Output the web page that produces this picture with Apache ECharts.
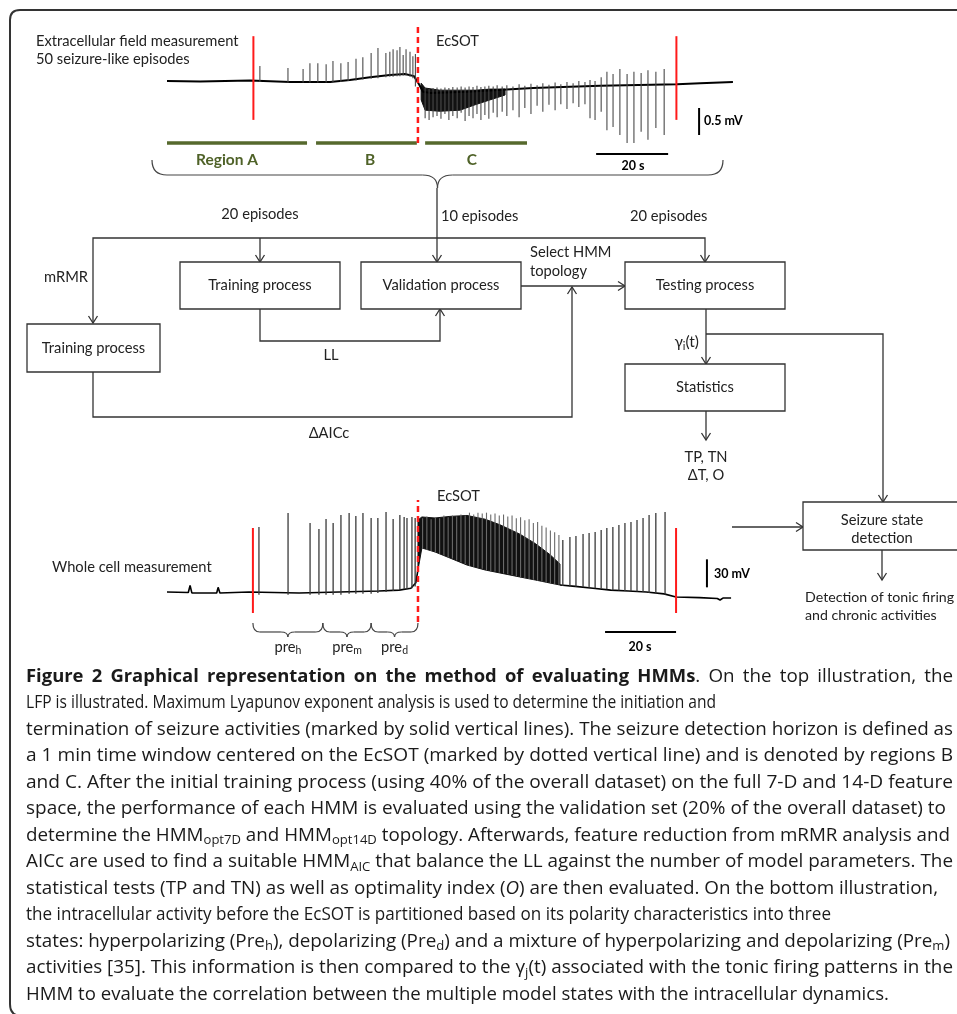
<!DOCTYPE html>
<html><head><meta charset="utf-8">
<script src="https://cdn.jsdelivr.net/npm/echarts@6/dist/echarts.min.js"></script>
<style>html,body{margin:0;padding:0;background:#fff}#c{width:957px;height:1014px}</style>
</head><body><div id="c"></div>
<script>
// ================= DATA =================
// Top trace: extracellular field (LFP). time [s], potential [mV] relative to initial baseline
const lfpBaseline = [[0,0],[9.2,-0.01],[23.1,0.01],[34.2,-0.02],[45.3,-0.02],[50.8,0.02],[56.4,0.07],[61.9,0.11],[66.1,0.13],[68.6,0.09],[70.0,-0.06],[71.1,-0.2],[73.1,-0.22],[83.3,-0.2],[101.7,-0.13],[120.3,-0.09],[141.7,-0.06],[148.1,-0.04],[157.2,-0.02]];
// spikes: [time, low, high]
const lfpSpikes = [
 [25.8,-0.02,0.28],[33.6,-0.03,0.24],[37.8,-0.03,0.22],[39.7,-0.03,0.33],[41.9,-0.03,0.33],[44.2,-0.03,0.31],[46.1,-0.02,0.37],[48.3,-0.02,0.33],[50.3,0.0,0.35],[52.5,0.01,0.41],[54.4,0.03,0.44],[56.7,0.04,0.52],[58.6,0.05,0.61],[60.8,0.07,0.52],[61.9,0.08,0.54],[62.8,0.08,0.59],[63.9,0.09,0.57],[64.7,0.09,0.63],[65.6,0.1,0.48],[66.4,0.1,0.59],[67.5,0.08,0.54],[68.3,0.05,0.46],[69.0,-0.1,0.5],
 [71.7,-0.69,-0.13],[72.8,-0.72,-0.15],[73.9,-0.67,-0.13],[75.0,-0.65,-0.12],[76.1,-0.70,-0.14],[77.2,-0.61,-0.12],[78.3,-0.72,-0.13],[79.4,-0.65,-0.11],[80.6,-0.69,-0.12],[81.7,-0.59,-0.1],[82.8,-0.74,-0.12],[83.9,-0.65,-0.1],[85.0,-0.69,-0.11],[86.1,-0.61,-0.09],[87.2,-0.72,-0.11],[88.3,-0.63,-0.1],[89.4,-0.70,-0.09],[90.6,-0.59,-0.1],[91.7,-0.67,-0.08],[93.1,-0.57,-0.1],
 [94.4,-0.65,-0.08],[96.1,-0.54,-0.1],[97.8,-0.67,-0.06],[99.4,-0.50,-0.09],[101.1,-0.61,-0.05],[102.8,-0.46,-0.08],[104.4,-0.57,-0.04],[106.1,-0.44,-0.07],[107.8,-0.54,-0.03],[109.4,-0.43,-0.06],[111.1,-0.52,-0.02],[112.8,-0.41,-0.04],[114.4,-0.48,0.0],[116.1,-0.43,-0.02],[117.5,-0.69,0.02],
 [118.9,-0.72,0.0],[120.6,-0.57,0.07],[122.2,-0.91,0.17],[123.9,-0.85,0.13],[125.8,-1.0,0.22],[127.8,-1.15,0.13],[129.7,-1.15,0.17],[131.7,-0.94,0.15],[133.6,-1.09,0.2],[135.8,-0.87,0.17],[138.1,-1.0,0.22]
];
// dense burst envelope right after the EcSOT: [time, upper, lower]
const lfpBand = [[70.6,-0.04,-0.35],[71.7,-0.13,-0.54],[75.8,-0.17,-0.56],[81.4,-0.17,-0.54],[85.6,-0.17,-0.44],[89.7,-0.15,-0.35],[93.9,-0.15,-0.26]];
const lfpSeizureBounds = [24.0, 141.5];   // seizure onset / termination (s)
const lfpEcSOT = 69.7;                    // EcSOT time (s)
const regionNames = ['Region A','B','C'];
const regionSpans = [[0,38.9],[41.4,69.4],[71.7,100.0]];
const lfpScale = {mV: 0.5, s: 20};

// Bottom trace: whole cell membrane potential. time [s], potential [mV]
const wcBaselinePre = [[0,-70],[6.0,-70.5],[6.5,-63],[7.0,-71],[14.0,-71],[14.4,-65],[14.9,-71],[23.1,-70],[37.2,-71],[48.5,-70],[59.7,-69],[65.4,-68],[68.7,-66],[70.1,-60],[70.7,-46]];
const wcBaselinePost = [[110.7,-62.5],[115,-64],[120,-66],[125,-68],[130,-69],[135,-70],[140,-72],[143.4,-75.4],[150,-76],[155,-77],[155.8,-78.6],[156.6,-76.5],[158.9,-76.4]];
const wcSpikes = [
 [25.9,-73,-0.3],[34.1,-73,14.7],[40.3,-73,4.0],[42.8,-73,-2.5],[44.8,-73,8.2],[46.8,-73,4.0],[49.0,-73,12.5],[51.3,-72,14.7],[53.2,-72,11.5],[55.2,-72,14.7],[57.5,-72,9.3],[59.4,-71,9.3],[61.7,-70,15.7],[63.7,-69,8.2],[65.6,-68,12.5],[66.8,-67,10.4],[67.6,-67,9.3],[69.0,-66,10.4],[69.9,-64,9.3],
 [111.5,-63.5,-14.3],[113.5,-64,-11.1],[115.2,-64.5,-10.0],[117.2,-65,-7.8],[118.9,-65.5,-6.8],[120.6,-66,-5.7],[122.3,-66.5,-3.5],[123.9,-67,-1.4],[125.6,-68,-0.3],[127.3,-68.5,1.8],[129.0,-69,4.0],[130.7,-69,5.0],[132.4,-69.5,7.2],[134.1,-70,9.3],[135.8,-71,12.5],[137.7,-72,14.7],[140.3,-73,15.7]
];
// tonic burst after the EcSOT: solid envelope [time, upper, lower] and the spikes inside it [time, low, high]
const wcBand = [[70.7,7.2,-46.4],[71.8,10.4,-22.8],[75.5,9.3,-27.1],[79.7,11.0,-33.6],[84.5,12.0,-41.1],[89.6,8.0,-46.4],[93.8,2.0,-49.6],[99.4,-8.0,-53.9],[103.7,-18.0,-57.1],[107.9,-30.0,-60.4],[110.7,-40.0,-62.5]];
const wcBurstSpikes = [
 [72.0,-24,9],[73.2,-25,11],[74.4,-26,8],[75.6,-28,10],[76.8,-29,9],[78.0,-31,12],[79.2,-33,10],[80.4,-34,12],[81.6,-36,11],[82.8,-38,13],[84.0,-40,12],
 [85.2,-42,15],[86.4,-43,13],[87.6,-44,15],[88.8,-45,14],[90.0,-47,15],[91.2,-48,13],[92.4,-48,14],[93.6,-49,12],[94.8,-50,13],[96.0,-51,11],[97.2,-52,12],
 [98.4,-53,9],[99.6,-54,10],[100.8,-55,7],[102.0,-56,8],[103.2,-57,4],[104.4,-58,5],[105.6,-59,1],[106.8,-60,-1],[108.0,-61,-4],[109.2,-61.5,-6],[110.4,-62,-9]
];
const wcSeizureBounds = [24.2, 143.4];
const wcEcSOT = 70.7;
const preStateNames = ['h','m','d'];
const preStateSpans = [[24.2,43.9],[43.9,57.5],[57.5,70.7]];
const wcScale = {mV: 30, s: 20};

const captionLines = [
 '{b|Figure 2 Graphical representation on the method of evaluating HMMs}. On the top illustration, the',
 'LFP is illustrated. Maximum Lyapunov exponent analysis is used to determine the initiation and',
 'termination of seizure activities (marked by solid vertical lines). The seizure detection horizon is defined as',
 'a 1 min time window centered on the EcSOT (marked by dotted vertical line) and is denoted by regions B',
 'and C. After the initial training process (using 40% of the overall dataset) on the full 7-D and 14-D feature',
 'space, the performance of each HMM is evaluated using the validation set (20% of the overall dataset) to',
 'determine the HMM{s|opt7D} and HMM{s|opt14D} topology. Afterwards, feature reduction from mRMR analysis and',
 'AICc are used to find a suitable HMM{s|AIC} that balance the LL against the number of model parameters. The',
 'statistical tests (TP and TN) as well as optimality index ({i|O}) are then evaluated. On the bottom illustration,',
 'the intracellular activity before the EcSOT is partitioned based on its polarity characteristics into three',
 'states: hyperpolarizing (Pre{s|h}), depolarizing (Pre{s|d}) and a mixture of hyperpolarizing and depolarizing (Pre{s|m})',
 'activities [35]. This information is then compared to the γ{s|j}(t) associated with the tonic firing patterns in the',
 'HMM to evaluate the correlation between the multiple model states with the intracellular dynamics.'
];
// right edge (px) of each caption line
const captionRight = [953, 716, 953, 953, 953, 946, 950, 953, 938, 831, 950, 953, 889];

// ================= RENDER =================
const chart = echarts.init(document.getElementById('c'), null, {renderer:'canvas'});
const LC = '#333';
const DF = 'Lato';
const DS = 14.7;

function segRender(color, width, dash){
  return function(params, api){
    const t = api.value(0);
    const a = api.coord([t, api.value(1)]), b = api.coord([t, api.value(2)]);
    return {type:'line', shape:{x1:a[0],y1:a[1],x2:b[0],y2:b[1]}, style:{stroke:color, lineWidth:width, lineDash:dash||null}};
  };
}
function hsegRender(color, width){
  return function(params, api){
    const v = api.value(2);
    const a = api.coord([api.value(0), v]), b = api.coord([api.value(1), v]);
    return {type:'line', shape:{x1:a[0],y1:a[1],x2:b[0],y2:b[1]}, style:{stroke:color, lineWidth:width}};
  };
}
function bandRender(band, fill){
  return function(params, api){
    if (params.dataIndex !== 0) return null;
    const up = band.map(d => api.coord([d[0], d[1]]));
    const lo = band.slice().reverse().map(d => api.coord([d[0], d[2]]));
    return {type:'polygon', shape:{points: up.concat(lo)}, style:{fill:fill, stroke:fill, lineWidth:1}};
  };
}
function scaleRender(sc, vx, vTop, hy, hx){
  return function(params, api){
    const a = api.coord([vx, vTop]), b = api.coord([vx, vTop - sc.mV]);
    const c = api.coord([hx, hy]), d = api.coord([hx + sc.s, hy]);
    return {type:'group', children:[
      {type:'line', shape:{x1:a[0],y1:a[1],x2:b[0],y2:b[1]}, style:{stroke:'#000', lineWidth:2}},
      {type:'line', shape:{x1:c[0],y1:c[1],x2:d[0],y2:d[1]}, style:{stroke:'#000', lineWidth:2}}
    ]};
  };
}
function qc(x1,y1,cx,cy,x2,y2,stroke,w){
  return {type:'bezierCurve', shape:{x1,y1,x2,y2,cpx1:cx,cpy1:cy}, style:{stroke:stroke||'#444', lineWidth:w||1.2, fill:null}, silent:true};
}
function ln(x1,y1,x2,y2,stroke,w){
  return {type:'line', shape:{x1,y1,x2,y2}, style:{stroke:stroke||'#444', lineWidth:w||1.2}, silent:true};
}
function braceParts(x1, x2, y0, h, tip, r){
  const xm = (x1 + x2) / 2;
  return [
    qc(x1,y0, x1,y0+h, x1+r,y0+h), ln(x1+r,y0+h, xm-r,y0+h), qc(xm-r,y0+h, xm,y0+h, xm,y0+tip),
    qc(xm+r,y0+h, xm,y0+h, xm,y0+tip), ln(xm+r,y0+h, x2-r,y0+h), qc(x2-r,y0+h, x2,y0+h, x2,y0)
  ];
}
function braceRender(params, api){
  const a = api.coord([api.value(0), -103.2]), b = api.coord([api.value(1), -103.2]);
  const x1 = a[0], x2 = b[0], y0 = a[1], xm = (x1 + x2) / 2;
  const parts = braceParts(x1, x2, y0, 9, 14, 7);
  parts.push({type:'text', x:xm, y:y0+24, style:{text:'pre{s|' + preStateNames[params.dataIndex] + '}', font:DS + 'px Lato', fill:'#222', align:'center', verticalAlign:'middle', textAlign:'center', textVerticalAlign:'middle', lineHeight:18,
      rich:{s:{fontFamily:'Lato', fontSize:10.5, lineHeight:10, verticalAlign:'bottom', fill:'#222'}}}});
  return {type:'group', children:parts};
}

const series = [
  // ---- top LFP ----
  {type:'line', xAxisIndex:0, yAxisIndex:0, data:lfpBaseline, symbol:'none', lineStyle:{color:'#000', width:2}, z:3},
  {type:'custom', xAxisIndex:0, yAxisIndex:0, data:lfpBand, renderItem:bandRender(lfpBand,'#111'), z:3},
  {type:'custom', xAxisIndex:0, yAxisIndex:0, data:lfpSpikes, encode:{x:0,y:[1,2]}, renderItem:segRender('#4a4a4a',1.1), z:4},
  {type:'custom', xAxisIndex:0, yAxisIndex:0, data:regionSpans.map(s => [s[0], s[1], -1.148]), renderItem:hsegRender('#56692d',3.5), z:4},
  {type:'custom', xAxisIndex:0, yAxisIndex:0, data:[[0]], renderItem:scaleRender(lfpScale, 147.8, -0.5, -1.35, 119.2), z:4},
  {type:'custom', xAxisIndex:0, yAxisIndex:0, data:lfpSeizureBounds.map(t => [t, -0.72, 0.83]), encode:{x:0,y:[1,2]}, renderItem:segRender('#ff1a1a',2), z:6},
  {type:'custom', xAxisIndex:0, yAxisIndex:0, data:[[lfpEcSOT, -1.15, 1.04]], encode:{x:0,y:[1,2]}, renderItem:segRender('#ff1a1a',2.5,[6,4]), z:6},
  // ---- bottom whole cell ----
  {type:'line', xAxisIndex:1, yAxisIndex:1, data:wcBaselinePre, symbol:'none', lineStyle:{color:'#000', width:1.6}, z:3},
  {type:'line', xAxisIndex:1, yAxisIndex:1, data:wcBaselinePost, symbol:'none', lineStyle:{color:'#000', width:1.6}, z:3},
  {type:'custom', xAxisIndex:1, yAxisIndex:1, data:wcBand, renderItem:bandRender(wcBand,'#111'), z:3},
  {type:'custom', xAxisIndex:1, yAxisIndex:1, data:wcBurstSpikes, encode:{x:0,y:[1,2]}, renderItem:segRender('#6a6a6a',1.1), z:4},
  {type:'custom', xAxisIndex:1, yAxisIndex:1, data:wcSpikes, encode:{x:0,y:[1,2]}, renderItem:segRender('#3a3a3a',1.3), z:4},
  {type:'custom', xAxisIndex:1, yAxisIndex:1, data:[[0]], renderItem:scaleRender(wcScale, 152.1, -35, -112.9, 123.4), z:4},
  {type:'custom', xAxisIndex:1, yAxisIndex:1, data:wcSeizureBounds.map(t => [t, -92.5, -1.4]), encode:{x:0,y:[1,2]}, renderItem:segRender('#ff1a1a',2), z:6},
  {type:'custom', xAxisIndex:1, yAxisIndex:1, data:[[wcEcSOT, -102.2, 28.6]], encode:{x:0,y:[1,2]}, renderItem:segRender('#ff1a1a',2.5,[6,4]), z:6},
  {type:'custom', xAxisIndex:1, yAxisIndex:1, data:preStateSpans, encode:{x:[0,1]}, renderItem:braceRender, z:4}
];

// ---- graphic helpers ----
function pl(points, w){ return {type:'polyline', shape:{points}, style:{stroke:LC, lineWidth:w||1.3, fill:null}, silent:true}; }
function head(x, y, dir){
  const a = 4.5, l = 7; let p;
  if (dir === 'down') p = [[x-a,y-l],[x,y],[x+a,y-l]];
  else if (dir === 'up') p = [[x-a,y+l],[x,y],[x+a,y+l]];
  else p = [[x-l,y-a],[x,y],[x-l,y+a]];
  return pl(p);
}
function box(x1, y1, x2, y2){ return {type:'rect', shape:{x:x1,y:y1,width:x2-x1,height:y2-y1}, style:{stroke:'#333', lineWidth:1.3, fill:'#fff'}, silent:true}; }
function T(text, x, y, align, opt){
  opt = opt || {};
  const size = opt.size || DS, weight = opt.weight || 'normal', color = opt.color || '#222';
  return {type:'text', x, y, silent:true, z:10, style:{text, font: weight + ' ' + size + 'px ' + DF, fill:color,
    textAlign:align, textVerticalAlign:'middle', align:align, verticalAlign:'middle', lineHeight: size + 4,
    rich:{s:{fontFamily:DF, fontSize: Math.round(size*0.72), lineHeight: Math.round(size*0.72), verticalAlign:'bottom', fill:color}}}};
}

const G = [];
// border
G.push(ln(957,10,20,10,'#333',2)); G.push(qc(20,10,10,10,10,20,'#333',2)); G.push(ln(10,20,10,1004,'#333',2)); G.push(qc(10,1004,10,1016,22,1016,'#333',2));
// big brace over the top trace
braceParts(152, 723, 160, 15, 28, 15).forEach(e => G.push(e));
// flow lines
G.push(pl([[437,188],[437,262]])); G.push(head(437,262,'down'));
G.push(pl([[93,323],[93,238],[705,238],[705,262]])); G.push(head(93,323,'down')); G.push(head(705,262,'down'));
G.push(pl([[260,238],[260,262]])); G.push(head(260,262,'down'));
G.push(pl([[260,309],[260,341],[440,341],[440,309]])); G.push(head(440,309,'up'));
G.push(pl([[93,372],[93,417],[572,417],[572,287]])); G.push(head(572,287,'up'));
G.push(pl([[521,286],[625,286]])); G.push(head(625,286,'right'));
G.push(pl([[706,309],[706,364]])); G.push(head(706,364,'down'));
G.push(pl([[706,334],[883,334],[883,502]])); G.push(head(883,502,'down'));
G.push(pl([[706,411],[706,440]])); G.push(head(706,440,'down'));
G.push(pl([[732,527],[803,527]])); G.push(head(803,527,'right'));
G.push(pl([[882,550],[882,580]])); G.push(head(882,580,'down'));
// boxes
G.push(box(27,324,160,372)); G.push(box(180,262,340,309)); G.push(box(361,262,521,309));
G.push(box(625,262,785,309)); G.push(box(625,364,785,411)); G.push(box(803,502,962,550));
// texts
const green = '#4f6228';
[
 T('Extracellular field measurement',36,41,'left'), T('50 seizure-like episodes',36,59,'left'), T('EcSOT',436,41,'left'),
 T(regionNames[0],227,160,'center',{size:15.5,weight:'bold',color:green}), T(regionNames[1],370,160,'center',{size:15.5,weight:'bold',color:green}), T(regionNames[2],472,160,'center',{size:15.5,weight:'bold',color:green}),
 T(lfpScale.mV + ' mV',704,121,'left',{size:12.5,weight:'bold',color:'#000'}), T(lfpScale.s + ' s',633,166,'center',{size:12.5,weight:'bold',color:'#000'}),
 T('20 episodes',260,214,'center'), T('10 episodes',441,216,'left'), T('20 episodes',630,216,'left'),
 T('mRMR',44,277,'left'), T('Training process',260,285.5,'center'), T('Validation process',441,285.5,'center'),
 T('Select HMM',530,252,'left'), T('topology',530,271,'left'), T('Testing process',705,285.5,'center'),
 T('Training process',93.5,348,'center'), T('LL',331,355,'center'), T('ΔAICc',329,433,'center'),
 T('γ{s|i}(t)',699,342,'right',{size:15.5}), T('Statistics',705,387,'center'),
 T('TP, TN',706,457,'center'), T('ΔT, O',706,475,'center'),
 T('EcSOT',437,496,'left'), T('Whole cell measurement',52,567,'left'),
 T(wcScale.mV + ' mV',714,574,'left',{size:12.5,weight:'bold',color:'#000'}), T(wcScale.s + ' s',640,647,'center',{size:12.5,weight:'bold',color:'#000'}),
 T('Seizure state',882,520,'center'), T('detection',882,538,'center'),
 T('Detection of tonic firing',805,597,'left',{size:14.2}), T('and chronic activities',805,615,'left',{size:14.2})
].forEach(e => G.push(e));

// caption: each line fitted to its right edge
const CF = 'Open Sans', CS = 17.3, SS = 12;
const ctx = document.createElement('canvas').getContext('2d');
const fontOf = {n: CS + 'px "' + CF + '"', b: 'bold ' + CS + 'px "' + CF + '"', i: 'italic ' + CS + 'px "' + CF + '"', s: SS + 'px "' + CF + '"'};
function mw(str, k){ ctx.font = fontOf[k]; return ctx.measureText(str).width; }
function measureRich(line){
  const re = /\{(\w)\|([^}]*)\}/g; let w = 0, last = 0, m;
  while ((m = re.exec(line))) { w += mw(line.slice(last, m.index), 'n') + mw(m[2], m[1]); last = re.lastIndex; }
  return w + mw(line.slice(last), 'n');
}
const capRich = {
  b:{fontFamily:CF, fontSize:CS, fontWeight:'bold', fill:'#1a1a1a', lineHeight:22},
  i:{fontFamily:CF, fontSize:CS, fontStyle:'italic', fill:'#1a1a1a', lineHeight:22},
  s:{fontFamily:CF, fontSize:SS, lineHeight:14, verticalAlign:'bottom', fill:'#1a1a1a'}
};
function capText(text, x, y, sx){
  return {type:'text', x, y, scaleX:sx, silent:true, z:10,
    style:{text, font: CS + 'px ' + CF, fill:'#1a1a1a', textAlign:'left', align:'left', textVerticalAlign:'middle', verticalAlign:'middle', lineHeight:22, rich:capRich}};
}
const baseScale = (captionRight[2] - 26) / measureRich(captionLines[2]);
captionLines.forEach((line, i) => {
  const y = 677 + i*26.5;
  const tm = line.match(/^\{b\|([^}]*)\}(.*)$/);
  if (tm) {
    // justified line: condensed bold title words + regular words, extra room spread over the spaces
    const boldScale = baseScale * 1.05 * mw(tm[1], 'n') / mw(tm[1], 'b');
    const toks = [];
    tm[1].split(' ').forEach((w, k) => toks.push({t:'{b|' + w + '}', w: mw(w,'b') * boldScale, sx: boldScale, gap: k > 0}));
    tm[2].split(' ').forEach((w, k) => toks.push({t:w, w: mw(w,'n') * baseScale, sx: baseScale, gap: k > 0}));
    const nGaps = toks.filter(o => o.gap).length;
    const gap = (captionRight[i] - 26 - toks.reduce((a, o) => a + o.w, 0)) / nGaps;
    let x = 26;
    toks.forEach(o => { if (o.gap) x += gap; G.push(capText(o.t, x, y, o.sx)); x += o.w; });
  } else {
    G.push(capText(line, 26, y, (captionRight[i] - 26) / measureRich(line)));
  }
});

chart.setOption({
  animation:false,
  backgroundColor:'#fff',
  grid:[{left:167, top:21.6, width:566, height:135}, {left:167, top:494, width:566, height:140}],
  xAxis:[{gridIndex:0, type:'value', min:0, max:157.22, show:false}, {gridIndex:1, type:'value', min:0, max:159.44, show:false}],
  yAxis:[{gridIndex:0, type:'value', min:-1.4, max:1.1, show:false}, {gridIndex:1, type:'value', min:-115, max:35, show:false}],
  series: series,
  graphic:{elements:G}
});
</script></body></html>
